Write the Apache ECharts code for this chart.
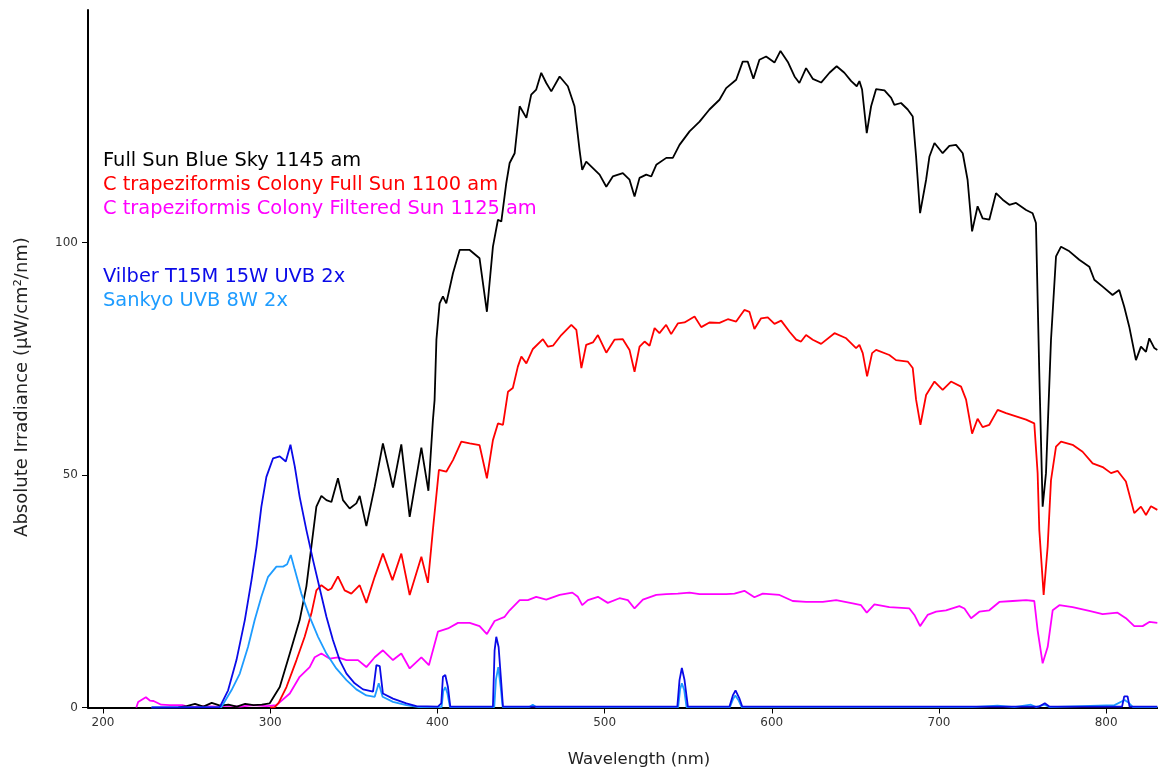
<!DOCTYPE html>
<html>
<head>
<meta charset="utf-8">
<script src="https://cdn.jsdelivr.net/npm/echarts@6/dist/echarts.min.js"></script>
<style>
html,body{margin:0;padding:0;background:#fff;}
#chart{width:1158px;height:771px;}
</style>
</head>
<body>
<div id="chart"></div>
<script>
// Wavelength (nm) tick labels and irradiance ticks
const xTicks = [200, 300, 400, 500, 600, 700, 800];
const yTicks = [0, 50, 100];

// [wavelength nm, irradiance µW/cm²/nm]
const fullSunBlueSky = [
[245,0],[250,0.3],[255,0.8],[260,0.2],[265,1.0],[270,0.4],[275,0.6],[280,0.2],[285,0.8],[290,0.5],[295,0.6],[299.7,0.9],
[305.7,4.4],[311.7,11.6],[317.6,18.8],[321.6,26.0],[324.6,34.6],[327.6,43.2],[330.6,45.5],[333.6,44.6],[336.6,44.2],
[340.5,49.3],[343.5,44.6],[347.5,42.8],[351.5,43.9],[353.5,45.5],[357.5,39.0],[362.5,47.5],[367.4,56.8],[373.4,47.3],
[378.4,56.6],[383.4,41.0],[390.4,55.9],[394.6,46.6],[397.3,61.8],[398.3,66.1],[399.4,79.1],[401.3,86.9],[403.3,88.4],
[405.3,86.9],[409.3,93.4],[413.3,98.4],[419.3,98.4],[425.2,96.6],[429.6,85.1],[433.2,99.1],[436.2,104.9],[438.2,104.5],
[441.2,112.8],[443.2,117.1],[446.2,119.2],[449.2,129.3],[453.2,126.8],[456.1,131.8],[459.1,132.9],[462.1,136.5],
[465.1,134.3],[468.1,132.5],[473.1,135.7],[478.0,133.6],[482.0,129.3],[485.0,119.9],[486.6,115.6],[489.0,117.4],
[493.0,116.0],[497.0,114.6],[501.0,112.0],[504.9,114.2],[510.9,114.9],[514.9,113.5],[517.9,109.9],[520.9,113.9],
[524.9,114.6],[527.9,114.2],[530.9,116.7],[536.9,118.2],[540.8,118.2],[544.8,121.0],[550.8,123.9],[556.8,126.0],
[562.7,128.6],[568.7,130.7],[572.7,133.2],[578.7,135.0],[582.6,138.9],[585.6,138.9],[589.0,135.2],[592.6,139.3],
[596.6,140.0],[601.6,138.7],[605.2,141.2],[609.8,138.7],[613.6,135.7],[616.5,134.3],[620.5,137.5],[624.5,135.2],
[629.5,134.4],[634.5,136.5],[638.8,137.9],[643.4,136.5],[647.5,134.7],[650.8,133.6],[652.4,134.7],[654.0,132.9],
[656.8,123.5],[659.4,129.3],[662.4,133.0],[667.4,132.7],[671.4,131.1],[673.3,129.6],[677.3,130.0],[681.3,128.6],
[684.3,127.1],[686.3,118.5],[688.7,106.3],[692.3,113.5],[694.3,118.5],[697.3,121.4],[702.2,119.2],[706.2,120.8],
[710.2,121.0],[714.2,119.2],[717.1,113.5],[719.8,102.4],[723.1,107.8],[726.1,105.2],[730.1,104.9],[734.1,110.6],
[738.1,109.2],[742.1,108.1],[746.1,108.5],[752.1,107.0],[756.0,106.3],[758.0,104.2],[760.0,71.9],[762.0,43.2],
[764.0,50.4],[767.0,79.1],[770.0,97.0],[773.0,99.1],[778.0,98.1],[783.9,96.3],[789.9,94.8],[792.9,92.0],[797.9,90.5],
[803.8,88.7],[807.8,89.8],[810.8,86.2],[813.8,81.9],[817.8,74.7],[820.8,77.6],[823.8,76.5],[825.8,79.4],[828.8,77.3],[830.6,76.9]
];

const colonyFullSun = [
[300,0],[302.7,0.1],[305,1.0],[309.7,4.4],[315.7,10.2],[320.6,15.2],[324.6,20.2],[327.6,25.2],[330.6,26.3],[334.6,25.2],
[336.6,25.6],[340.5,28.2],[344.5,25.2],[348.5,24.5],[353.5,26.3],[357.5,22.5],[362.5,28.1],[367.4,33.1],[373.1,27.4],
[378.4,33.1],[383.4,24.2],[390.4,32.4],[394.3,26.8],[397.3,38.2],[400.9,51.1],[405.3,50.7],[409.3,53.2],[414.3,57.2],
[419.3,56.8],[425.2,56.4],[429.6,49.3],[433.2,57.5],[436.2,61.1],[439.2,60.8],[442.2,67.9],[445.1,68.7],[448.1,73.3],
[450.2,75.5],[453.2,74.0],[457.1,77.1],[463.1,79.2],[466.1,77.6],[469.1,77.8],[474.1,80.1],[480.1,82.3],[483.1,81.2],
[486.1,73.0],[489.0,78.0],[493.0,78.5],[496.0,80.1],[501.0,76.3],[505.9,79.1],[510.9,79.2],[514.9,76.9],[517.9,72.2],
[520.9,77.6],[523.9,78.7],[526.9,77.8],[529.9,81.6],[532.8,80.5],[536.8,82.3],[539.8,80.3],[543.8,82.6],[547.8,82.8],
[553.8,84.1],[557.8,81.8],[562.7,82.8],[568.7,82.7],[573.7,83.5],[578.7,83.0],[583.6,85.5],[586.6,85.1],[589.6,81.4],
[593.6,83.7],[597.6,83.9],[601.6,82.5],[605.6,83.2],[610.6,80.8],[614.6,79.1],[617.5,78.7],[620.5,80.1],[624.5,79.1],
[629.5,78.2],[637.5,80.5],[644.5,79.4],[650.4,77.3],[652.4,78.0],[654.4,76.2],[657.0,71.2],[660.0,76.2],[662.4,76.9],
[670.3,75.8],[674.3,74.7],[681.3,74.4],[684.3,73.0],[686.3,66.2],[688.9,60.8],[692.3,67.2],[697.3,70.1],[702.2,68.3],
[707.2,70.1],[713.2,69.0],[716.2,66.2],[719.8,58.9],[723.1,62.1],[726.1,60.3],[730.1,60.8],[735.1,64.0],[740.1,63.3],
[746.1,62.6],[752.1,61.9],[757.0,61.1],[759.0,50.4],[760.0,38.2],[762.6,24.2],[765.0,34.6],[767.0,48.9],[770.0,56.1],
[773.0,57.2],[779.9,56.5],[785.9,55.0],[791.9,52.5],[797.9,51.7],[802.9,50.4],[806.8,50.9],[811.8,48.6],[816.8,41.8],
[820.8,43.2],[823.8,41.4],[826.8,43.3],[830.6,42.5]
];

const colonyFilteredSun = [
[219.9,0],[221,1.2],[225.6,2.2],[228,1.5],[230.2,1.4],[234.8,0.6],[240,0.5],[247.4,0.5],[252,0.1],[260,0.3],[268,0.2],
[275,0.4],[282,0.2],[290,0.5],[298,0.3],[303.7,0.5],[311.7,3.0],[317.6,6.6],[323.6,8.7],[326.6,10.8],[330.6,11.6],
[335.6,10.5],[340.5,10.8],[345.6,10.2],[352.5,10.2],[357.5,8.7],[362.5,10.8],[367.4,12.3],[373.4,10.2],[378.4,11.6],
[383.4,8.4],[390.4,10.8],[394.9,9.1],[400.3,16.3],[406.3,17.0],[412.3,18.2],[419.3,18.2],[425.2,17.5],[429.6,15.8],
[434.2,18.6],[440.2,19.5],[443.2,20.9],[449.2,23.1],[454.1,23.1],[459.1,23.8],[465.1,23.2],[473.1,24.2],[480.7,24.7],
[484.0,23.8],[486.6,22.0],[490.0,23.1],[496.0,23.8],[501.9,22.5],[508.9,23.5],[513.9,23.1],[517.9,21.3],[522.9,23.2],
[530.9,24.2],[536.9,24.4],[543.8,24.5],[550.8,24.7],[556.8,24.4],[564.7,24.4],[572.7,24.4],[577.7,24.5],[583.6,25.1],
[589.6,23.7],[594.6,24.5],[604.6,24.2],[612.5,22.9],[620.5,22.7],[630.5,22.7],[638.5,23.1],[648.4,22.4],[653.4,22.0],
[656.8,20.4],[661.4,22.2],[670.3,21.6],[682.3,21.3],[685.3,19.9],[688.7,17.5],[693.2,19.9],[698.3,20.6],[704.2,20.9],
[712.2,21.8],[715.2,21.3],[719.2,19.2],[724.1,20.6],[730.1,20.9],[736.1,22.7],[744.1,22.9],[752.1,23.1],[757.0,22.9],
[759.0,16.6],[762.0,9.5],[765.0,13.0],[768.0,20.9],[772.0,22.0],[779.9,21.6],[789.9,20.8],[797.9,20.1],[806.8,20.4],
[811.8,19.2],[816.8,17.5],[821.8,17.5],[825.8,18.4],[830.6,18.2]
];

const vilberUVB = [
[229,0],[269.8,0.1],[274.8,3.7],[279.8,10.2],[284.8,18.8],[288.8,27.4],[291.8,34.6],[294.7,43.2],[297.7,49.6],
[301.7,53.6],[305.7,54.0],[309.3,52.9],[312.1,56.5],[314.7,51.8],[317.6,45.3],[321.6,38.2],[325.6,31.7],[329.6,25.6],
[333.6,19.5],[337.5,14.5],[341.5,10.2],[345.6,7.3],[350.5,5.2],[355.5,3.9],[361.5,3.4],[363.5,9.1],[365.5,8.9],
[367.4,3.0],[373.4,1.9],[381.4,0.9],[387.4,0.3],[400.3,0.2],[402.3,0.9],[403.3,6.6],[404.7,7.0],[406.3,4.4],[407.7,0.2],
[433.2,0.2],[434.2,12.3],[435.2,15.2],[436.6,13.0],[438.2,5.2],[439.2,0.2],[543.5,0.2],[544.8,5.9],[546.2,8.5],
[547.8,5.9],[549.8,0.2],[574.7,0.2],[576.7,2.6],[578.3,3.7],[580.7,1.9],[582.3,0.2],[760,0.2],[763.3,0.9],[766,0.2],
[809.5,0.2],[810.8,2.4],[812.8,2.4],[814,0.2],[830.6,0.2]
];

const sankyoUVB = [
[229,0],[270.8,0.1],[276.8,3.7],[281.8,7.3],[286.7,13.0],[290.7,18.8],[294.7,23.8],[298.7,28.1],[303.7,30.3],
[307.7,30.3],[310.1,30.8],[312.3,32.8],[314.7,29.6],[318.6,24.5],[323.6,19.5],[328.6,15.2],[333.6,11.6],[339.5,8.4],
[345.6,5.9],[351.5,3.9],[357.5,2.6],[362.5,2.3],[364.9,5.2],[367.2,2.3],[373.4,1.2],[381.4,0.5],[389,0.1],[402.5,0.1],
[403.5,3.5],[404.7,4.4],[406,3.0],[407.5,0.1],[434,0.1],[435,6.0],[436.4,8.7],[437.8,4.5],[439,0.1],[455,0.1],[457,0.6],
[459,0.1],[544,0.1],[545.2,4.0],[546.2,5.2],[547.6,3.8],[549,0.1],[575,0.1],[576.8,1.8],[578.2,2.6],[580.2,1.5],[582,0.1],
[720,0.1],[735,0.4],[745,0.1],[755,0.6],[758,0.1],[763,0.6],[766,0.1],[805,0.5],[811,1.6],[813.5,1.0],[816,0.1],[830.6,0.1]
];

const seriesNames = [
  'Full Sun Blue Sky 1145 am',
  'C trapeziformis Colony Full Sun 1100 am',
  'C trapeziformis Colony Filtered Sun 1125 am',
  'Vilber T15M 15W UVB 2x',
  'Sankyo UVB 8W 2x'
];
const seriesColors = ['#000000', '#ff0000', '#ff00ff', '#0a0ae8', '#1e9cff'];
const drawOrder = [2, 1, 0, 4, 3];

const chart = echarts.init(document.getElementById('chart'), null, {renderer: 'canvas'});

const dataByName = {};
dataByName[seriesNames[0]] = fullSunBlueSky;
dataByName[seriesNames[1]] = colonyFullSun;
dataByName[seriesNames[2]] = colonyFilteredSun;
dataByName[seriesNames[3]] = vilberUVB;
dataByName[seriesNames[4]] = sankyoUVB;

const series = drawOrder.map(i => ({
  name: seriesNames[i],
  type: 'line',
  data: dataByName[seriesNames[i]],
  showSymbol: false,
  symbol: 'none',
  smooth: false,
  animation: false,
  clip: true,
  lineStyle: {color: seriesColors[i], width: 1.8},
  itemStyle: {color: seriesColors[i]}
}));

const legendY = [160.5, 184.5, 209, 276.5, 300.5];
const legendText = seriesNames.map((n, i) => ({
  type: 'text',
  x: 103,
  y: legendY[i],
  style: {text: n, fill: seriesColors[i], font: '19.4px "DejaVu Sans"', verticalAlign: 'middle'}
}));

chart.setOption({
  animation: false,
  grid: {left: 88, right: 0, top: 10, bottom: 63.5, containLabel: false},
  xAxis: {
    type: 'value', min: 191, max: 831,
    axisLine: {show: true, onZero: false, lineStyle: {color: '#000', width: 2}},
    axisTick: {show: true, length: 6, customValues: xTicks, lineStyle: {color: '#000', width: 1}},
    axisLabel: {customValues: xTicks, color: '#333', fontFamily: 'DejaVu Sans', fontSize: 12, margin: 9},
    splitLine: {show: false}
  },
  yAxis: {
    type: 'value', min: 0, max: 150,
    axisLine: {show: true, onZero: false, lineStyle: {color: '#000', width: 2}},
    axisTick: {show: true, length: 6, customValues: yTicks, lineStyle: {color: '#000', width: 1}},
    axisLabel: {customValues: yTicks, color: '#333', fontFamily: 'DejaVu Sans', fontSize: 12, margin: 10},
    splitLine: {show: false}
  },
  graphic: legendText.concat([
    {type: 'text', x: 639, y: 760, style: {text: 'Wavelength (nm)', fill: '#222', font: '16.5px "DejaVu Sans"', align: 'center', verticalAlign: 'middle'}},
    {type: 'text', x: 22, y: 387, rotation: Math.PI / 2, style: {text: 'Absolute Irradiance (μW/cm²/nm)', fill: '#222', font: '18px "DejaVu Sans"', align: 'center', verticalAlign: 'middle'}}
  ]),
  series: series
});
</script>
</body>
</html>
